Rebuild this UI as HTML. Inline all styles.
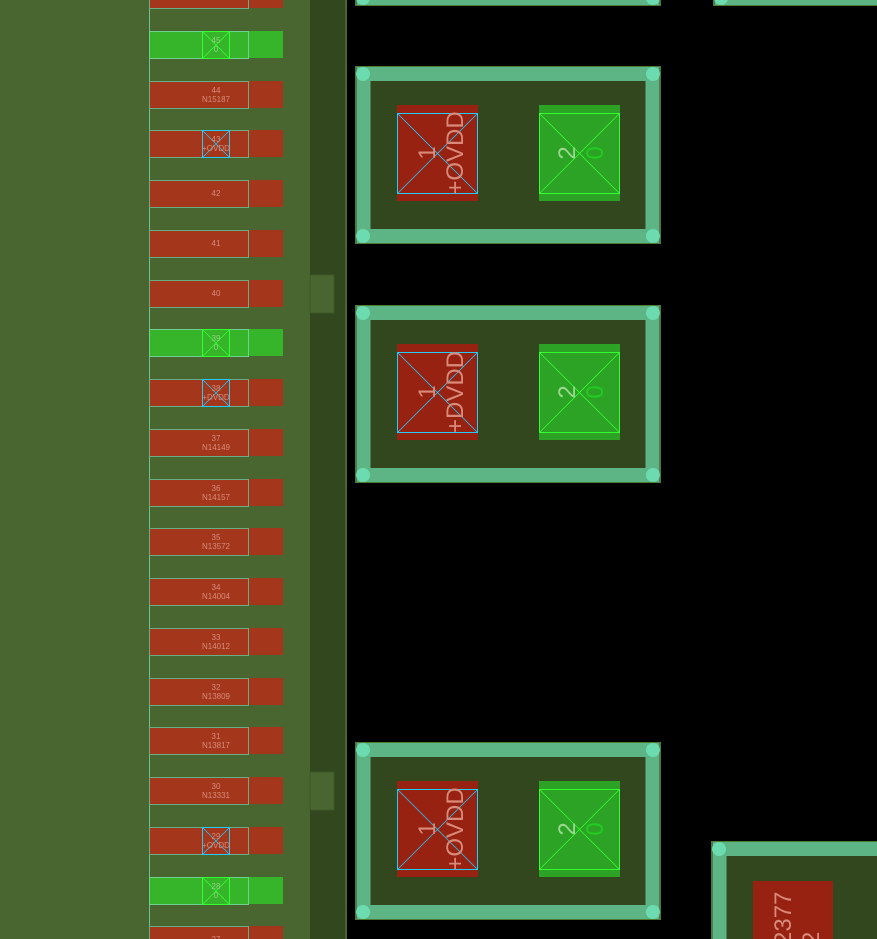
<!DOCTYPE html>
<html><head><meta charset="utf-8"><style>
html,body{margin:0;padding:0;background:#000;width:877px;height:939px;overflow:hidden}
svg{display:block;overflow:hidden}
text{font-family:"Liberation Sans",sans-serif}
</style></head><body>
<svg id="s" width="877" height="939" viewBox="0 0 877 939" xmlns="http://www.w3.org/2000/svg">
<rect x="0" y="0" width="310" height="939" fill="#4a6630"/>
<rect x="310" y="0" width="36" height="939" fill="#33471f"/>
<rect x="345" y="0" width="2" height="939" fill="#4a6630"/>
<line x1="149.5" y1="0" x2="149.5" y2="939" stroke="#6fc08f" stroke-width="1"/>
<rect x="310" y="275" width="24" height="38" fill="#4a6630" stroke="#3d5527"/>
<rect x="310" y="772" width="24" height="38" fill="#4a6630" stroke="#3d5527"/>
<g id="pads"></g>
<g id="comps"></g>
</svg>
<script>
var NS="http://www.w3.org/2000/svg";
function el(p,t,a,txt){var e=document.createElementNS(NS,t);for(var k in a)e.setAttribute(k,a[k]);if(txt!==undefined)e.textContent=txt;p.appendChild(e);return e;}
var pads=document.getElementById('pads');
var rows=[["46","",0,0],["45","0",1,1],["44","N15187",0,0],["43","+OVDD",0,2],["42","",0,0],["41","",0,0],["40","",0,0],["39","0",1,1],["38","+DVDD",0,2],["37","N14149",0,0],["36","N14157",0,0],["35","N13572",0,0],["34","N14004",0,0],["33","N14012",0,0],["32","N13809",0,0],["31","N13817",0,0],["30","N13331",0,0],["29","+OVDD",0,2],["28","0",1,1],["27","",0,0]];
for(var i=0;i<rows.length;i++){
 var y=Math.round(-19+i*49.75);var r=rows[i];
 var g=r[2];
 el(pads,'rect',{x:149,y:y,width:134,height:27,fill:g?'#36b52a':'#a3361b'});
 el(pads,'rect',{x:149.5,y:y+0.5,width:99,height:27,fill:'none',stroke:g?'#6fd08f':'#6aae86','stroke-width':1});
 if(r[3]){var c=r[3]==1?'#33ff33':'#22ccff';
  el(pads,'rect',{x:202.5,y:y+0.5,width:27,height:27,fill:'none',stroke:c,'stroke-width':1});
  el(pads,'line',{x1:203,y1:y+1,x2:229,y2:y+27,stroke:c,'stroke-width':0.7});
  el(pads,'line',{x1:229,y1:y+1,x2:203,y2:y+27,stroke:c,'stroke-width':0.7});}
 var tc=g?'#8fcf7f':'#d98a7a';
 if(r[1]){el(pads,'text',{x:216,y:y+12,'font-size':8,fill:tc,'text-anchor':'middle'},r[0]);
  el(pads,'text',{x:216,y:y+21,'font-size':8,fill:tc,'text-anchor':'middle'},r[1]);}
 else el(pads,'text',{x:216,y:y+16,'font-size':8,fill:tc,'text-anchor':'middle'},r[0]);
}
var comps=document.getElementById('comps');
function comp(x0,y0,w,h,lbl){
 el(comps,'rect',{x:x0+0.5,y:y0+0.5,width:w-1,height:h-1,fill:'#33471f',stroke:'#4f7a36'});
 el(comps,'rect',{x:x0+8.5,y:y0+8,width:w-17,height:h-16,fill:'none',stroke:'#5db585','stroke-width':14});
 [[x0+8,y0+8],[x0+w-8,y0+8],[x0+8,y0+h-8],[x0+w-8,y0+h-8]].forEach(function(p){el(comps,'circle',{cx:p[0],cy:p[1],r:7,fill:'#6ddbb0'});});
 if(lbl){
 var py=y0+39;
 el(comps,'rect',{x:x0+42,y:py,width:81,height:96,fill:'#972211'});
 el(comps,'rect',{x:x0+42.5,y:py+8.5,width:80,height:80,fill:'none',stroke:'#22ccff'});
 el(comps,'line',{x1:x0+43,y1:py+9,x2:x0+122,y2:py+88,stroke:'#22ccff','stroke-width':0.8});
 el(comps,'line',{x1:x0+122,y1:py+9,x2:x0+43,y2:py+88,stroke:'#22ccff','stroke-width':0.8});
 var cx=x0+82,cy=py+48;
 el(comps,'text',{x:0,y:0,'font-size':24,fill:'#d98a7a','text-anchor':'middle',transform:'translate('+(cx-2)+','+cy+') rotate(-90)'},'1');
 el(comps,'text',{x:0,y:0,'font-size':24,fill:'#d98a7a','text-anchor':'middle',transform:'translate('+(cx+26)+','+cy+') rotate(-90)'},lbl);
 var gx=x0+184;
 el(comps,'rect',{x:gx,y:py,width:81,height:96,fill:'#2ca324'});
 el(comps,'rect',{x:gx+0.5,y:py+8.5,width:80,height:80,fill:'none',stroke:'#33ff33'});
 el(comps,'line',{x1:gx+1,y1:py+9,x2:gx+80,y2:py+88,stroke:'#33ff33','stroke-width':0.8});
 el(comps,'line',{x1:gx+80,y1:py+9,x2:gx+1,y2:py+88,stroke:'#33ff33','stroke-width':0.8});
 var gcx=gx+40;
 el(comps,'text',{x:0,y:0,'font-size':24,fill:'#9ad890','text-anchor':'middle',transform:'translate('+(gcx-4)+','+cy+') rotate(-90)'},'2');
 el(comps,'text',{x:0,y:0,'font-size':24,fill:'#22cc22','text-anchor':'middle',transform:'translate('+(gcx+24)+','+cy+') rotate(-90)'},'0');
 }
}
comp(355,-172,306,178,null);
comp(713,-172,300,178,null);
comp(355,66,306,178,'+OVDD');
comp(355,305,306,178,'+DVDD');
comp(355,742,306,178,'+OVDD');
comp(711,841,300,178,null);
el(comps,'rect',{x:753,y:881,width:80,height:58,fill:'#972211'});
el(comps,'text',{x:0,y:0,'font-size':24,fill:'#d98a7a','text-anchor':'start',transform:'translate(791,945) rotate(-90)'},'2377');
el(comps,'text',{x:0,y:0,'font-size':24,fill:'#d98a7a','text-anchor':'start',transform:'translate(819,945) rotate(-90)'},'2');
</script>
</body></html>
